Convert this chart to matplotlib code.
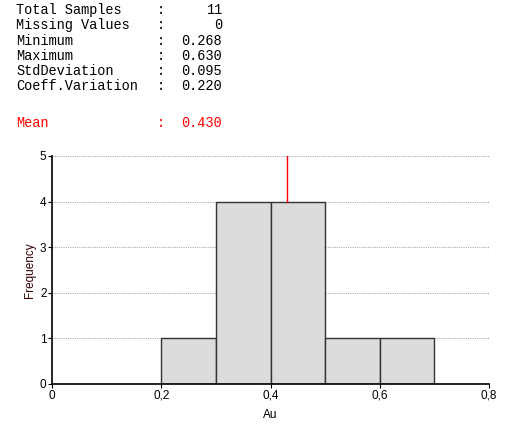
import matplotlib.pyplot as plt

# summary statistics shown above the histogram
stat_labels = ["Total Samples", "Missing Values", "Minimum", "Maximum",
               "StdDeviation", "Coeff.Variation"]
stat_values = ["11", "0", "0.268", "0.630", "0.095", "0.220"]
mean_value = 0.430

# histogram bins (Au) and counts
bin_left = [0.2, 0.3, 0.4, 0.5, 0.6]
bin_width = 0.1
counts = [1, 4, 4, 1, 1]

x_ticks = [0, 0.2, 0.4, 0.6, 0.8]
x_tick_labels = ["0", "0,2", "0,4", "0,6", "0,8"]
y_ticks = [0, 1, 2, 3, 4, 5]

W, H = 513, 441
fig = plt.figure(figsize=(W / 100, H / 100), dpi=100)

# --- text block ---
mono = dict(family="Liberation Mono", fontsize=9.8, va="center")
y0, dy = 10, 15.3
for i, (lab, val) in enumerate(zip(stat_labels, stat_values)):
    y = 1 - (y0 + i * dy) / H
    fig.text(16 / W, y, lab, ha="left", **mono)
    fig.text(157 / W, y, ":", ha="left", **mono)
    fig.text(222 / W, y, val, ha="right", **mono)
ym = 1 - 123 / H
fig.text(16 / W, ym, "Mean", ha="left", color="red", **mono)
fig.text(157 / W, ym, ":", ha="left", color="red", **mono)
fig.text(222 / W, ym, f"{mean_value:.3f}", ha="right", color="red", **mono)

# --- histogram ---
ax = fig.add_axes([52 / W, 57 / H, 437 / W, 228 / H])
ax.set_xlim(0, 0.8)
ax.set_ylim(0, 5)

for y in y_ticks[1:]:
    ax.axhline(y, color="#b0a8b0", lw=0.8, ls=(0, (1, 1)), zorder=0)
ax.axvline(0.8, color="#b0a8b0", lw=0.8, ls=(0, (1, 1)), zorder=0)

ax.bar(bin_left, counts, width=bin_width, align="edge",
       color="#dcdcdc", edgecolor="#333333", linewidth=1.0, zorder=2)

ax.plot([mean_value, mean_value], [counts[2], 5], color="red", lw=1, zorder=3)

for s in ["top", "right"]:
    ax.spines[s].set_visible(False)
for s in ["left", "bottom"]:
    ax.spines[s].set_color("black")
    ax.spines[s].set_linewidth(1.2)

ax.set_xticks(x_ticks)
ax.set_xticklabels(x_tick_labels)
ax.set_yticks(y_ticks)
ax.tick_params(labelsize=8.5, length=3, width=0.8, pad=1,
               labelfontfamily="Liberation Sans")

ax.set_ylabel("Frequency", fontsize=8.5, family="Liberation Sans",
              color="#330000", labelpad=3)
ax.set_xlabel("Au", fontsize=8.5, family="Liberation Sans", labelpad=5)

fig.savefig("out.png", dpi=100)
